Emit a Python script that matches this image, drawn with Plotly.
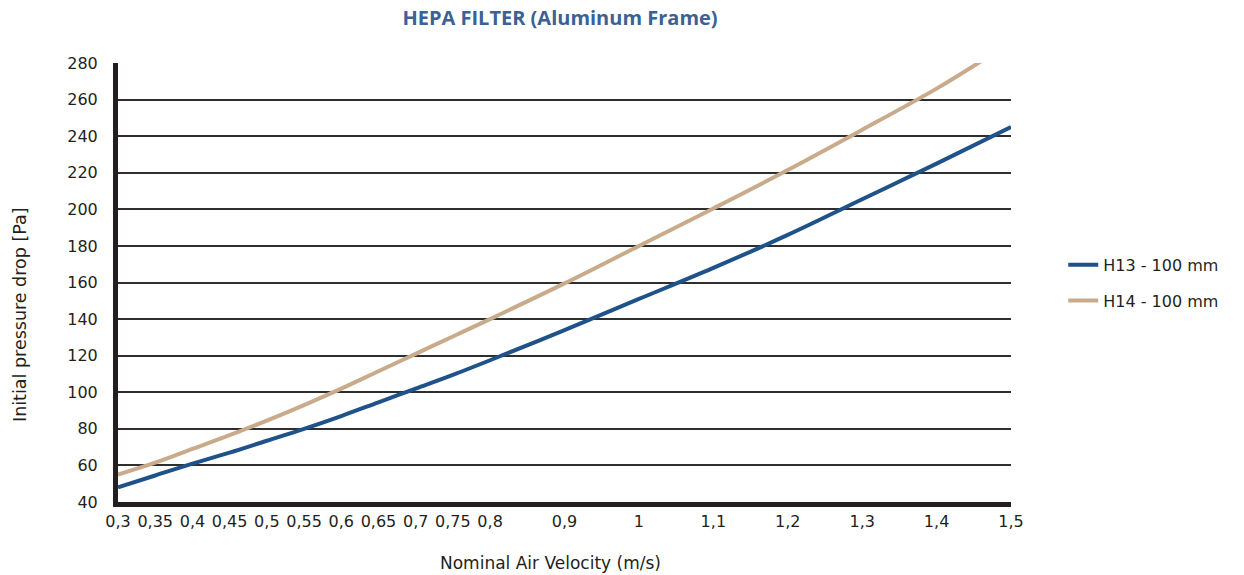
import plotly.graph_objects as go

# Nominal air velocity (m/s) at which the curves were read
velocity = [0.3, 0.35, 0.4, 0.45, 0.5, 0.55, 0.6, 0.65, 0.7, 0.75, 0.8,
            0.9, 1.0, 1.1, 1.2, 1.3, 1.4, 1.5]

# Initial pressure drop [Pa]
h13 = [48, 54.5, 61, 67, 73.5, 80, 87, 94.5, 102, 109.5, 117.5,
       134, 151, 168, 186, 205.5, 225, 245]

velocity_h14 = [0.3, 0.35, 0.4, 0.45, 0.5, 0.55, 0.6, 0.65, 0.7, 0.75, 0.8,
                0.9, 1.0, 1.1, 1.2, 1.3, 1.4, 1.46]
h14 = [55, 61.5, 69, 76.5, 84.5, 93, 102, 111.5, 121, 130.5, 140,
       159.5, 180, 200.5, 221.5, 243.5, 266, 281]

# axis ticks
x_ticks = [0.3, 0.35, 0.4, 0.45, 0.5, 0.55, 0.6, 0.65, 0.7, 0.75, 0.8,
           0.9, 1.0, 1.1, 1.2, 1.3, 1.4, 1.5]
x_labels = ["0,3", "0,35", "0,4", "0,45", "0,5", "0,55", "0,6", "0,65", "0,7",
            "0,75", "0,8", "0,9", "1", "1,1", "1,2", "1,3", "1,4", "1,5"]
y_ticks = list(range(40, 281, 20))

FONT = "DejaVu Sans"
INK = "#231f20"

fig = go.Figure()

fig.add_trace(go.Scatter(
    x=velocity, y=h13, mode="lines", name="H13 - 100 mm",
    line=dict(color="#1f5289", width=4, shape="spline"),
    legendgroup="h13",
))
fig.add_trace(go.Scatter(
    x=velocity_h14, y=h14, mode="lines", name="H14 - 100 mm",
    line=dict(color="#c9ab8c", width=4, shape="spline"),
    legendgroup="h14",
))

fig.update_layout(
    template="none",
    width=1244,
    height=575,
    margin=dict(l=118, r=233, t=63, b=73),
    plot_bgcolor="white",
    paper_bgcolor="white",
    font=dict(family=FONT, size=15, color=INK),
    title=dict(
        text="<b>HEPA FILTER (Aluminum Frame)</b>",
        font=dict(family="Open Sans", size=20, color="#3a6296"),
        x=0.495, xanchor="center", xref="paper",
        y=0.9687, yanchor="middle",
    ),
    showlegend=True,
    legend=dict(
        x=1.0585, xanchor="left", y=0.579, yanchor="top",
        font=dict(family=FONT, size=16, color=INK),
        tracegroupgap=12,
        bgcolor="rgba(0,0,0,0)",
    ),
    xaxis=dict(
        range=[0.3, 1.5],
        automargin=False,
        tickmode="array", tickvals=x_ticks, ticktext=x_labels,
        showgrid=False, zeroline=False,
        showline=True, linecolor=INK, linewidth=5,
        ticks="", ticklabelstandoff=1,
        tickfont=dict(size=16, color=INK),
    ),
    yaxis=dict(
        range=[40, 280],
        automargin=False,
        tickmode="array", tickvals=y_ticks,
        showgrid=True, gridcolor="#2e2e2e", gridwidth=2,
        zeroline=False,
        showline=True, linecolor=INK, linewidth=5,
        ticks="", ticklabelstandoff=12,
        tickfont=dict(size=16, color=INK),
    ),
    annotations=[
        dict(
            text="Initial pressure drop [Pa]",
            xref="paper", yref="paper", x=-0.1097, y=0.426,
            xanchor="center", yanchor="middle",
            textangle=-90, showarrow=False,
            font=dict(family=FONT, size=17.5, color=INK),
        ),
        dict(
            text="Nominal Air Velocity (m/s)",
            xref="paper", yref="paper", x=0.484, y=-0.139,
            xanchor="center", yanchor="middle",
            showarrow=False,
            font=dict(family=FONT, size=17, color=INK),
        ),
    ],
)

# drop the default 8px page margin so the figure fills the window exactly
fig.write_html(
    "out.html",
    config={"displayModeBar": False},
    post_script="document.body.style.margin='0';",
)
